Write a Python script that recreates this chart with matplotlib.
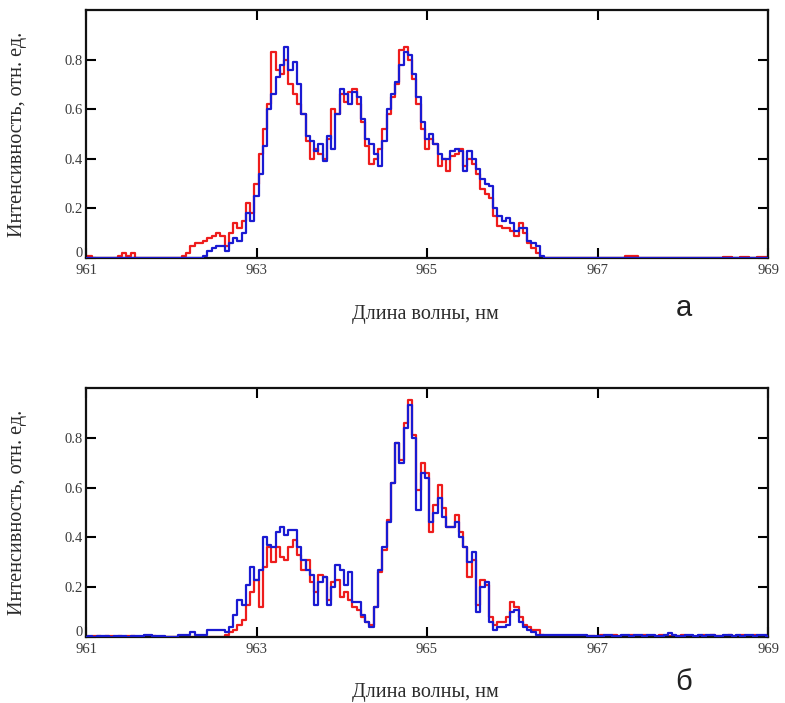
import numpy as np
import matplotlib
matplotlib.use("Agg")
import matplotlib.pyplot as plt
from matplotlib.transforms import ScaledTranslation

# ---------------------------------------------------------------------------
# Spectra, intensity in relative units, sampled every 0.05 nm.
# The emission band lies between 962.00 and 966.60 nm; the flat baseline is
# kept separately for 961.00-961.95 nm and 966.65-969.00 nm.
# ---------------------------------------------------------------------------
step = 0.05
band_start, band_stop = 962.00, 966.60
left_start, right_start, right_stop = 961.00, 966.65, 969.00

# panel "а"
a_red_band = [
    0.0, 0.0, 0.0, 0.01, 0.02, 0.05, 0.06, 0.06, 0.07, 0.08,
    0.09, 0.10, 0.09, 0.05, 0.10, 0.14, 0.12, 0.15, 0.22, 0.18,
    0.30, 0.42, 0.52, 0.62, 0.83, 0.76, 0.74, 0.80, 0.70, 0.66,
    0.62, 0.58, 0.47, 0.40, 0.44, 0.42, 0.40, 0.48, 0.60, 0.58,
    0.66, 0.63, 0.67, 0.68, 0.62, 0.55, 0.45, 0.38, 0.40, 0.44,
    0.52, 0.58, 0.65, 0.70, 0.84, 0.85, 0.80, 0.72, 0.62, 0.52,
    0.44, 0.48, 0.46, 0.37, 0.40, 0.35, 0.41, 0.42, 0.44, 0.37,
    0.40, 0.38, 0.34, 0.28, 0.26, 0.24, 0.17, 0.13, 0.12, 0.12,
    0.11, 0.09, 0.14, 0.10, 0.06, 0.04, 0.02, 0.0, 0.0, 0.0,
    0.0, 0.0, 0.0,
]
a_blue_band = [
    0.0, 0.0, 0.0, 0.0, 0.0, 0.0, 0.0, 0.0, 0.01, 0.03,
    0.04, 0.05, 0.05, 0.03, 0.06, 0.08, 0.07, 0.10, 0.18, 0.15,
    0.25, 0.34, 0.45, 0.60, 0.66, 0.73, 0.78, 0.85, 0.76, 0.79,
    0.70, 0.58, 0.49, 0.47, 0.43, 0.46, 0.39, 0.49, 0.44, 0.58,
    0.68, 0.66, 0.62, 0.67, 0.65, 0.56, 0.48, 0.46, 0.42, 0.37,
    0.47, 0.60, 0.66, 0.71, 0.78, 0.83, 0.82, 0.74, 0.65, 0.55,
    0.48, 0.50, 0.46, 0.42, 0.40, 0.40, 0.43, 0.44, 0.43, 0.35,
    0.43, 0.40, 0.36, 0.32, 0.30, 0.29, 0.20, 0.17, 0.15, 0.16,
    0.14, 0.11, 0.12, 0.12, 0.07, 0.06, 0.05, 0.01, 0.0, 0.0,
    0.0, 0.0, 0.0,
]
a_red_left = [0.01, 0.01, 0.0, 0.0, 0.0, 0.0, 0.0, 0.0, 0.01, 0.02,
              0.01, 0.02, 0.0, 0.0, 0.0, 0.0, 0.0, 0.0, 0.0, 0.0]
a_blue_left = [0.0, 0.0, 0.0, 0.0, 0.0, 0.0, 0.0, 0.0, 0.0, 0.0,
               0.0, 0.0, 0.0, 0.0, 0.0, 0.0, 0.0, 0.0, 0.0, 0.0]
a_red_right = [
    0.0, 0.0, 0.0, 0.0, 0.0, 0.0, 0.0, 0.0, 0.0, 0.0,
    0.0, 0.0, 0.0, 0.0, 0.01, 0.01, 0.01, 0.0, 0.0, 0.0,
    0.0, 0.0, 0.0, 0.0, 0.0, 0.0, 0.0, 0.0, 0.0, 0.0,
    0.0, 0.0, 0.0, 0.0, 0.0, 0.0, 0.0, 0.005, 0.005, 0.0,
    0.0, 0.005, 0.005, 0.0, 0.0, 0.005, 0.005, 0.005,
]
a_blue_right = [
    0.0, 0.0, 0.0, 0.0, 0.0, 0.0, 0.0, 0.0, 0.0, 0.0,
    0.0, 0.0, 0.0, 0.0, 0.0, 0.0, 0.0, 0.0, 0.0, 0.0,
    0.0, 0.0, 0.0, 0.0, 0.0, 0.0, 0.0, 0.0, 0.0, 0.0,
    0.0, 0.0, 0.0, 0.0, 0.0, 0.0, 0.0, 0.0, 0.0, 0.0,
    0.0, 0.0, 0.0, 0.0, 0.0, 0.0, 0.0, 0.0,
]

# panel "б"
b_red_band = [
    0.0, 0.0, 0.0, 0.0, 0.0, 0.0, 0.0, 0.0, 0.0, 0.0,
    0.0, 0.0, 0.0, 0.01, 0.02, 0.03, 0.05, 0.07, 0.13, 0.18,
    0.23, 0.12, 0.28, 0.36, 0.30, 0.36, 0.32, 0.31, 0.36, 0.39,
    0.33, 0.27, 0.31, 0.22, 0.18, 0.25, 0.24, 0.15, 0.22, 0.23,
    0.16, 0.18, 0.15, 0.12, 0.11, 0.08, 0.06, 0.05, 0.12, 0.26,
    0.35, 0.47, 0.62, 0.78, 0.71, 0.86, 0.95, 0.81, 0.59, 0.70,
    0.66, 0.42, 0.53, 0.61, 0.52, 0.44, 0.44, 0.49, 0.42, 0.36,
    0.24, 0.31, 0.13, 0.23, 0.21, 0.08, 0.05, 0.06, 0.06, 0.08,
    0.14, 0.12, 0.08, 0.05, 0.04, 0.03, 0.03, 0.01, 0.0, 0.0,
    0.0, 0.0, 0.0,
]
b_blue_band = [
    0.0, 0.0, 0.01, 0.01, 0.01, 0.02, 0.01, 0.01, 0.01, 0.03,
    0.03, 0.03, 0.03, 0.02, 0.04, 0.09, 0.15, 0.13, 0.21, 0.28,
    0.23, 0.27, 0.40, 0.37, 0.36, 0.42, 0.44, 0.41, 0.43, 0.43,
    0.36, 0.31, 0.27, 0.25, 0.13, 0.22, 0.24, 0.13, 0.20, 0.29,
    0.27, 0.21, 0.26, 0.14, 0.14, 0.09, 0.06, 0.04, 0.12, 0.27,
    0.36, 0.46, 0.62, 0.78, 0.70, 0.84, 0.93, 0.80, 0.51, 0.66,
    0.64, 0.46, 0.50, 0.56, 0.48, 0.44, 0.44, 0.46, 0.40, 0.36,
    0.30, 0.34, 0.10, 0.20, 0.22, 0.06, 0.03, 0.04, 0.04, 0.05,
    0.10, 0.11, 0.06, 0.04, 0.03, 0.02, 0.01, 0.01, 0.01, 0.01,
    0.01, 0.01, 0.01,
]
b_red_left = [0.005, 0.0, 0.005, 0.005, 0.0, 0.005, 0.005, 0.0, 0.005, 0.0,
              0.005, 0.005, 0.0, 0.0, 0.005, 0.0, 0.005, 0.0, 0.0, 0.0]
b_blue_left = [0.0, 0.005, 0.0, 0.005, 0.005, 0.005, 0.0, 0.005, 0.005, 0.005,
               0.0, 0.005, 0.005, 0.005, 0.01, 0.01, 0.005, 0.005, 0.005, 0.0]
b_red_right = [
    0.0, 0.0, 0.005, 0.005, 0.005, 0.005, 0.005, 0.0, 0.01, 0.005,
    0.005, 0.01, 0.005, 0.0, 0.005, 0.01, 0.005, 0.005, 0.01, 0.005,
    0.0, 0.005, 0.01, 0.005, 0.005, 0.0, 0.005, 0.01, 0.005, 0.005,
    0.0, 0.005, 0.01, 0.005, 0.01, 0.005, 0.005, 0.0, 0.01, 0.005,
    0.005, 0.01, 0.005, 0.005, 0.01, 0.005, 0.005, 0.01,
]
b_blue_right = [
    0.01, 0.01, 0.01, 0.01, 0.01, 0.005, 0.005, 0.005, 0.005, 0.01,
    0.01, 0.005, 0.005, 0.01, 0.01, 0.005, 0.01, 0.01, 0.005, 0.01,
    0.01, 0.005, 0.005, 0.01, 0.015, 0.01, 0.005, 0.005, 0.01, 0.01,
    0.005, 0.01, 0.005, 0.01, 0.01, 0.005, 0.005, 0.01, 0.01, 0.005,
    0.01, 0.005, 0.01, 0.01, 0.005, 0.01, 0.01, 0.005,
]

x_ticks = [961, 963, 965, 967, 969]
x_tick_labels = ["961", "963", "965", "967", "969"]
y_ticks = [0.0, 0.2, 0.4, 0.6, 0.8]
y_tick_labels = ["0", "0.2", "0.4", "0.6", "0.8"]
x_label = "Длина волны, нм"
y_label = "Интенсивность, отн. ед."
panel_letters = ["а", "б"]

RED = "#ee1c1c"
BLUE = "#1a1ad2"
SERIF = ["Liberation Serif", "DejaVu Serif"]
SANS = ["Liberation Sans", "DejaVu Sans"]


def wavelengths(start, n):
    return start + step * np.arange(n)


def full_series(left, band, right):
    x = np.concatenate([
        wavelengths(left_start, len(left)),
        wavelengths(band_start, len(band)),
        wavelengths(right_start, len(right)),
    ])
    y = np.concatenate([left, band, right])
    return x, y


fig = plt.figure(figsize=(7.85, 7.03), dpi=100)
W, H = 785.0, 703.0

panels = [
    dict(box=(86, 10, 768, 258),
         red=(a_red_left, a_red_band, a_red_right),
         blue=(a_blue_left, a_blue_band, a_blue_right),
         xlabel_y=314, letter_y=308),
    dict(box=(86, 388, 768, 637),
         red=(b_red_left, b_red_band, b_red_right),
         blue=(b_blue_left, b_blue_band, b_blue_right),
         xlabel_y=692, letter_y=682),
]

for p, letter in zip(panels, panel_letters):
    x0, y0, x1, y1 = p["box"]
    ax = fig.add_axes([x0 / W, 1 - y1 / H, (x1 - x0) / W, (y1 - y0) / H])

    xr, yr = full_series(*p["red"])
    xb, yb = full_series(*p["blue"])
    ax.plot(xr, yr, color=RED, lw=1.6, drawstyle="steps-mid", zorder=2)
    ax.plot(xb, yb, color=BLUE, lw=1.6, drawstyle="steps-mid", zorder=3)

    ax.set_xlim(961, 969)
    ax.set_ylim(0, 1.0)
    ax.set_xticks(x_ticks)
    ax.set_xticklabels(x_tick_labels)
    ax.set_yticks(y_ticks)
    ax.set_yticklabels(y_tick_labels)
    ax.tick_params(direction="in", length=7, width=1.5, color="black",
                   top=True, right=True, labelsize=10.5, labelcolor="#3a3a3a",
                   pad=2)
    ax.tick_params(axis="x", pad=4)
    for lab in ax.get_xticklabels() + ax.get_yticklabels():
        lab.set_family(SERIF)
    # lift the "0" of the intensity axis so it sits just above "961"
    zero_lab = ax.get_yticklabels()[0]
    zero_lab.set_transform(zero_lab.get_transform()
                           + ScaledTranslation(0, 6 / 100, fig.dpi_scale_trans))
    for s in ax.spines.values():
        s.set_linewidth(1.6)
        s.set_color("#111111")

    ax.set_ylabel(y_label, family=SERIF, fontsize=14.5, color="#2a2a2a")
    ax.yaxis.set_label_coords(-(x0 - 27) / (x1 - x0), 0.5)

    fig.text(425 / W, 1 - p["xlabel_y"] / H, x_label, family=SERIF,
             fontsize=14.5, color="#2a2a2a", ha="center", va="center")
    fig.text(684 / W, 1 - p["letter_y"] / H, letter, family=SANS,
             fontsize=21, color="#222222", ha="center", va="center")

fig.savefig("out.png", dpi=100)
